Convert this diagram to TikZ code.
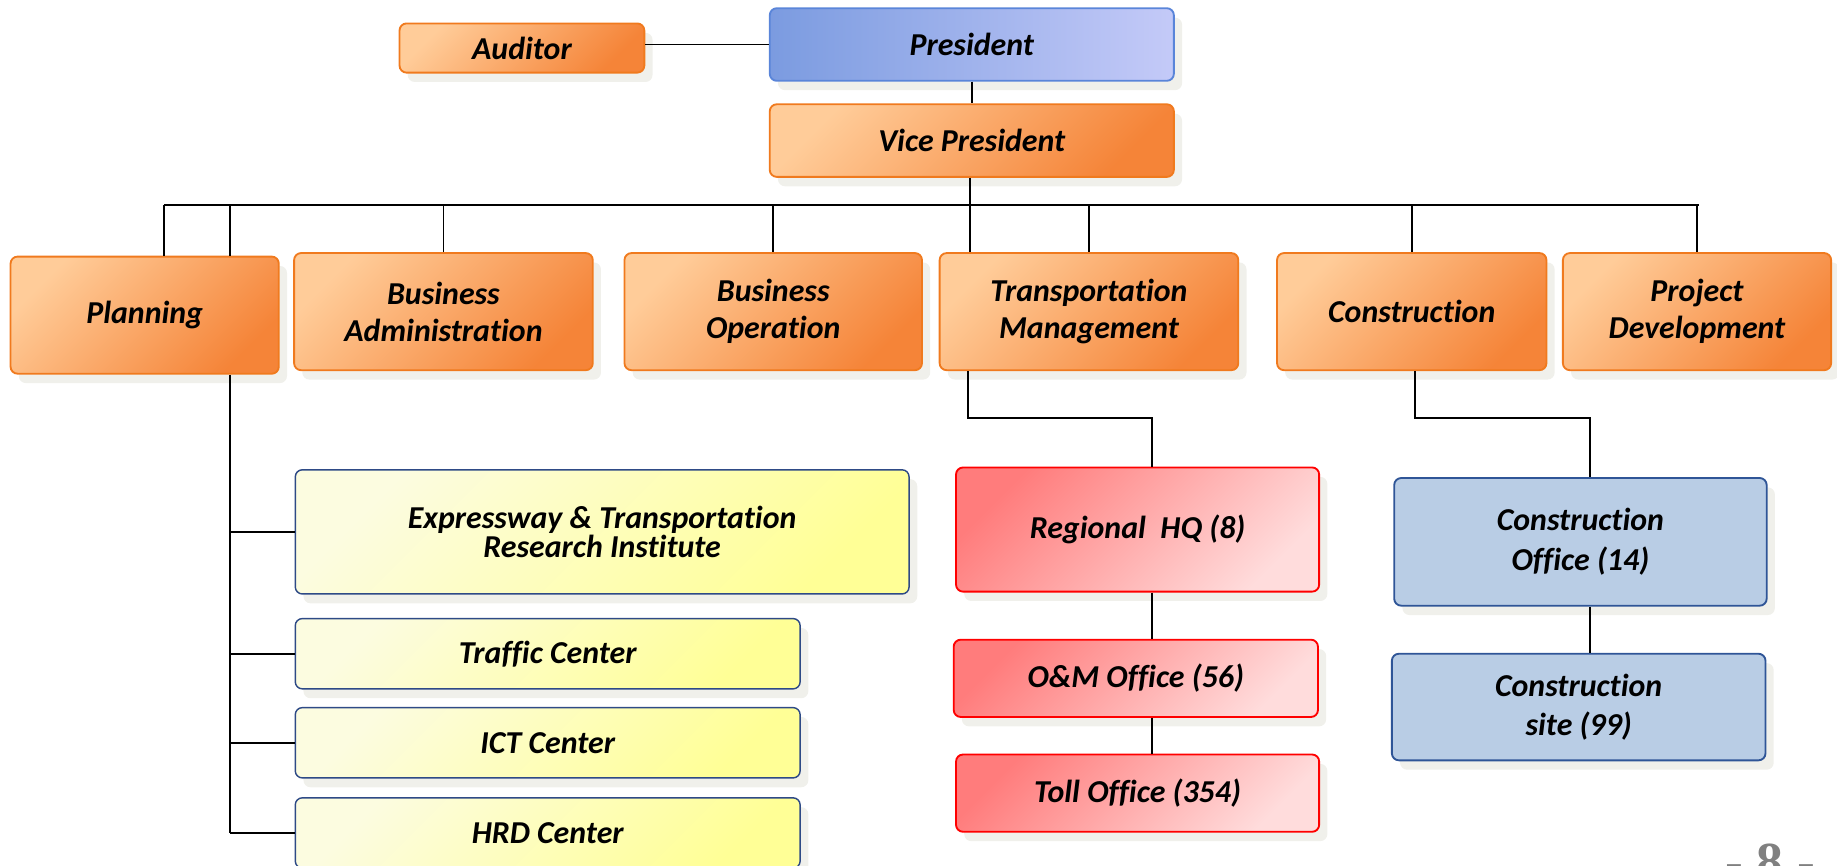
\documentclass[tikz,border=0pt]{standalone}
\usepackage{fontspec}
\setmainfont{Carlito}[Ligatures=NoCommon]
\newfontfamily\pagefont{Liberation Serif}
\usetikzlibrary{shadows}

\definecolor{orgL}{RGB}{255,204,153}
\definecolor{orgD}{RGB}{245,132,56}
\definecolor{orgB}{RGB}{240,122,30}
\definecolor{preL}{RGB}{123,155,224}
\definecolor{preR}{RGB}{196,202,248}
\definecolor{preB}{RGB}{90,133,217}
\definecolor{redL}{RGB}{255,124,124}
\definecolor{redD}{RGB}{255,220,220}
\definecolor{redB}{RGB}{255,0,0}
\definecolor{ylwL}{RGB}{252,252,224}
\definecolor{ylwD}{RGB}{255,255,150}
\definecolor{ylwB}{RGB}{46,74,134}
\definecolor{bluF}{RGB}{185,205,229}
\definecolor{bluB}{RGB}{47,85,151}
\definecolor{shd}{RGB}{240,240,235}

\begin{document}
\begin{tikzpicture}[x=0.02cm,y=-0.02cm,
  font=\fontsize{15.5}{18.1}\selectfont\bfseries\itshape,
  base/.style={rounded corners=0.12cm, line width=0.9pt, align=center, inner sep=2pt,
    drop shadow={shadow xshift=0.14cm, shadow yshift=-0.16cm, fill=shd, opacity=1}},
  obox/.style={base, draw=orgB, top color=orgL, bottom color=orgD, shading angle=45},
  pbox/.style={base, draw=preB, left color=preL, right color=preR},
  rbox/.style={base, draw=redB, top color=redL, bottom color=redD, shading angle=45},
  ybox/.style={base, draw=ylwB, line width=0.7pt, top color=ylwL, bottom color=ylwD, shading angle=45},
  bbox/.style={base, draw=bluB, fill=bluF},
  conn/.style={draw=black, line width=0.9pt}
]
\useasboundingbox (0,0) rectangle (1568,739);

% top management
\node[obox, minimum width=4.18cm, minimum height=0.84cm] (aud) at (445.5,41) {Auditor};
\node[pbox, minimum width=6.9cm, minimum height=1.24cm] (pres) at (829.5,38) {President};
\node[obox, minimum width=6.9cm, minimum height=1.24cm] (vp) at (829.5,120) {Vice President};

% departments
\node[obox, minimum width=4.58cm, minimum height=2cm] (plan) at (123.5,269) {Planning};
\node[obox, minimum width=5.1cm, minimum height=2cm] (ba) at (378.5,266) {Business\\Administration};
\node[obox, minimum width=5.08cm, minimum height=2cm] (bo) at (660,266) {Business\\Operation};
\node[obox, minimum width=5.1cm, minimum height=2cm] (tm) at (929.5,266) {Transportation\\Management};
\node[obox, minimum width=4.6cm, minimum height=2cm] (con) at (1205,266) {Construction};
\node[obox, minimum width=4.58cm, minimum height=2cm] (pd) at (1448.5,266) {Project\\Development};

% planning units
\node[ybox, minimum width=10.48cm, minimum height=2.12cm,
  font=\fontsize{15.5}{13}\selectfont\bfseries\itshape] (eri) at (514,454)
  {Expressway \& Transportation\\Research Institute};
\node[ybox, minimum width=8.62cm, minimum height=1.2cm] (tc) at (467.5,558) {Traffic Center};
\node[ybox, minimum width=8.62cm, minimum height=1.2cm] (ict) at (467.5,634) {ICT Center};
\node[ybox, minimum width=8.62cm, minimum height=1.2cm] (hrd) at (467.5,711) {HRD Center};

% transportation units
\node[rbox, minimum width=6.2cm, minimum height=2.12cm] (rhq) at (971,452) {Regional~~HQ (8)};
\node[rbox, minimum width=6.22cm, minimum height=1.32cm] (om) at (969.5,579) {O\&M Office (56)};
\node[rbox, minimum width=6.2cm, minimum height=1.32cm] (toll) at (971,677) {Toll Office (354)};

% construction units
\node[bbox, minimum width=6.36cm, minimum height=2.18cm,
  font=\fontsize{15.5}{19.3}\selectfont\bfseries\itshape] (co) at (1349,462.5) {Construction\\Office (14)};
\node[bbox, minimum width=6.38cm, minimum height=1.82cm,
  font=\fontsize{15.5}{18.7}\selectfont\bfseries\itshape] (cs) at (1347.5,603.5) {Construction\\site (99)};

% page number
\node[anchor=base, text=black!50, font=\pagefont\bfseries\fontsize{26}{30}\selectfont] (pg) at (1511,751) {- 8 -};

% connectors: top
\draw[conn] (pres.west -| aud.east) -- (pres.west);
\draw[conn] (pres.south) -- (vp.north);

\coordinate (busL) at (140,175);
\coordinate (busR) at (1450,175);
\coordinate (plbus) at (196,175);
\coordinate (vpx) at (828,175);
\draw[conn] (busL) -- (busR);
\draw[conn] (vp.south -| vpx) -- (tm.north -| vpx);
\draw[conn] (busL) -- (plan.north -| busL);
\draw[conn] (plbus) -- (plan.north -| plbus);
\draw[conn] (ba.north |- busL) -- (ba.north);
\draw[conn] (bo.north |- busL) -- (bo.north);
\draw[conn] (tm.north |- busL) -- (tm.north);
\draw[conn] (con.north |- busL) -- (con.north);
\draw[conn] (pd.north |- busL) -- (pd.north);

% planning spine
\draw[conn] (plan.south -| plbus) -- (hrd.west -| plbus);
\draw[conn] (eri.west -| plbus) -- (eri.west);
\draw[conn] (tc.west -| plbus) -- (tc.west);
\draw[conn] (ict.west -| plbus) -- (ict.west);
\draw[conn] (hrd.west -| plbus) -- (hrd.west);

% transportation chain
\coordinate (tmx) at (826,357);
\coordinate (rhx) at (983,357);
\draw[conn] (tm.south -| tmx) -- (tmx) -- (rhx) -- (rhq.north -| rhx);
\draw[conn] (rhq.south -| rhx) -- (om.north -| rhx);
\draw[conn] (om.south -| rhx) -- (toll.north -| rhx);

% construction chain
\coordinate (cnx) at (1208,357);
\coordinate (cox) at (1357,357);
\draw[conn] (con.south -| cnx) -- (cnx) -- (cox) -- (co.north -| cox);
\draw[conn] (co.south -| cox) -- (cs.north -| cox);
\end{tikzpicture}
\end{document}
